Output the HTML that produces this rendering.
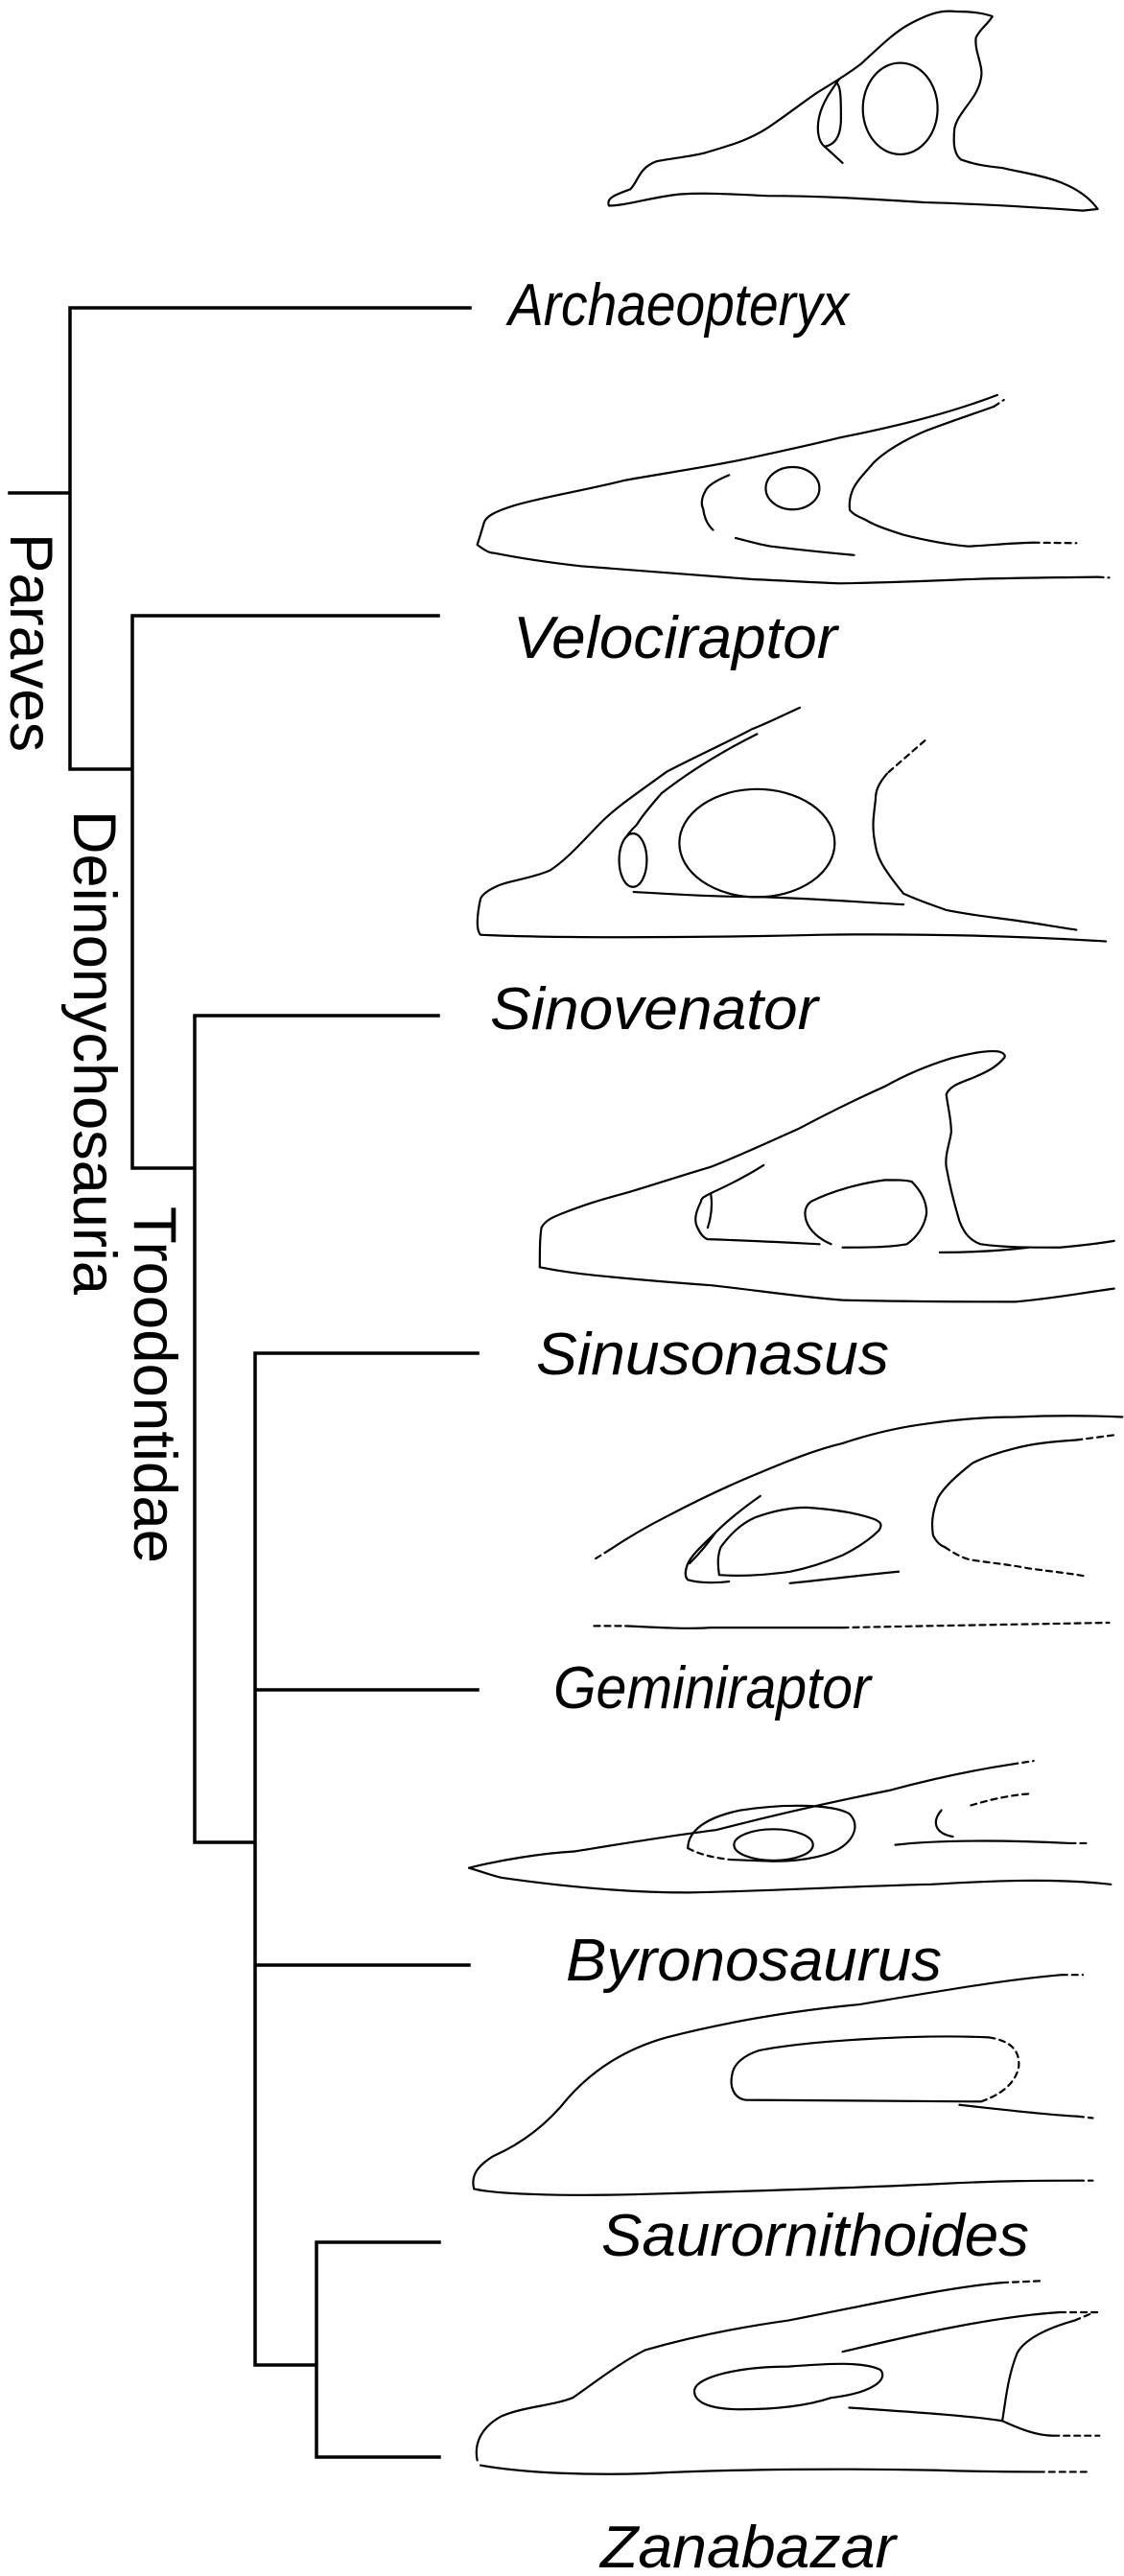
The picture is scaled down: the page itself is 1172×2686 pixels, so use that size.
<!DOCTYPE html>
<html><head><meta charset="utf-8"><style>
html,body{margin:0;padding:0;background:#fff;width:1172px;height:2686px;overflow:hidden}
svg{display:block}
.sp{font-family:"Liberation Sans",Arial,sans-serif;font-style:italic;font-size:62px;fill:#000}
.cl{font-family:"Liberation Sans",Arial,sans-serif;font-size:63px;fill:#000}
.sk path,.sk ellipse{fill:none;stroke:#000;stroke-width:2.2;vector-effect:non-scaling-stroke;stroke-linejoin:round;stroke-linecap:round}
.sk .d{stroke-dasharray:6 5}
</style></head><body>
<svg width="1172" height="2686" viewBox="0 0 1172 2686" xmlns="http://www.w3.org/2000/svg">
<g fill="none" stroke="#000" stroke-width="3.5" stroke-linecap="square">
<path d="M10,514H73M73,321H490M73,321V802H138M138,642H457M138,642V1218H203M203,1059H457M203,1059V1921H266M266,1411H498M266,1762H498M266,2049H489M266,1411V2466H330M330,2338H458M330,2338V2562H458"/>
</g>
<text class="cl" transform="translate(11,556) rotate(90)" textLength="228" lengthAdjust="spacingAndGlyphs">Paraves</text>
<text class="cl" transform="translate(77,845) rotate(90)" textLength="505" lengthAdjust="spacingAndGlyphs">Deinonychosauria</text>
<text class="cl" transform="translate(140,1258) rotate(90)" textLength="372" lengthAdjust="spacingAndGlyphs">Troodontidae</text>
<text class="sp" x="530" y="339" textLength="355" lengthAdjust="spacingAndGlyphs">Archaeopteryx</text>
<text class="sp" x="535" y="686" textLength="338" lengthAdjust="spacingAndGlyphs">Velociraptor</text>
<text class="sp" x="511" y="1073" textLength="342" lengthAdjust="spacingAndGlyphs">Sinovenator</text>
<text class="sp" x="559" y="1433" textLength="368" lengthAdjust="spacingAndGlyphs">Sinusonasus</text>
<text class="sp" x="577" y="1781" textLength="331" lengthAdjust="spacingAndGlyphs">Geminiraptor</text>
<text class="sp" x="590" y="2065" textLength="392" lengthAdjust="spacingAndGlyphs">Byronosaurus</text>
<text class="sp" x="627" y="2352" textLength="446" lengthAdjust="spacingAndGlyphs">Saurornithoides</text>
<text class="sp" x="626" y="2677" textLength="308" lengthAdjust="spacingAndGlyphs">Zanabazar</text>
<g class="sk" transform="scale(1.716)">
<path d="M370,125 C368,120 375,118 383,115 C388,110 388,102 399,98 C410,96 420,95 428,93 C445,88 455,85 466,78 C478,70 488,62 497,56 C507,50 515,45 523,39 C535,28 543,20 552,15 C565,8 572,6 581,7 C590,7 598,8 603,10 C600,15 595,18 593,23 C592,32 598,40 596,48 C594,60 582,68 580,78 C579,88 580,94 584,97 C592,100 600,101 609,102 C622,105 635,107 645,111 C655,115 662,120 667,127 L658,128 C630,126 600,124 562,123 C530,121 500,119 466,119 C445,118 430,117 413,118 C395,120 380,125 370,125 Z"/>
<ellipse cx="547" cy="66" rx="22.7" ry="27.8"/>
<path d="M508,50 C511,52 511,60 511,72 C511,82 508,88 501,89 C497,86 496,78 498,70 C500,62 505,55 510,48"/>
<path d="M501,89 L512,99"/>
<path d="M606,240 C580,250 550,258 510,266 C490,271 475,274 457,278 C430,284 400,288 379,292 C355,298 330,302 313,307 C300,311 295,314 294,318 C292,325 291,328 290,331 C294,334 297,336 300,336 C320,340 335,342 353,344 C390,347 420,349 457,352 C480,353 495,354 510,354.5 C540,354 565,353 588,352 C620,351 645,351 667,350.6"/>
<path class="d" d="M667,350.6 L674,351"/>
<path class="d" d="M604,247 L610,243"/>
<path d="M604,247 C590,252 575,257 562,262 C548,268 537,275 531,281 C524,289 520,293 518,298 C516,303 516,307 516.4,310 C519,313 522,314 525.6,315.7 C533,320 540,322 549,325 C565,329 577,331 588.5,332 C605,331 615,330 628,329.7"/>
<path class="d" d="M628,329.7 L654,330"/>
<ellipse cx="481.6" cy="296.7" rx="16.3" ry="12.9"/>
<path d="M443,288.7 C435,292 430,295 428.6,298.4 C426,303 426,307 427.3,309.2 C428,315 430,319 433.3,322"/>
<path d="M447,326.9 C455,329 462,331 468,331.9 C485,334 505,336 519,337.3"/>
<path d="M486,430 C475,435 465,440 457,443 C440,452 420,461 405,469 C390,480 375,490 366,499 C355,510 345,522 334,529 C322,534 310,535 303,538 C296,541 293,544 292,546 C290,555 289,565 292,568 C330,570 420,570 500,568 C580,567 640,570 672,572"/>
<path d="M460,446 C440,456 420,468 402,482 C395,490 390,496 387,501 C384,504 382,506 381,508"/>
<ellipse cx="384.6" cy="522.7" rx="8.4" ry="16.2"/>
<ellipse cx="460" cy="512.3" rx="47.2" ry="32.8"/>
<path d="M385,542 C420,544 440,545 463,545 C495,546 520,548 549,549.6"/>
<path class="d" d="M562,450 L539,470"/>
<path d="M539,470 C534,476 532,480 532,486 C531,495 530,500 531,508 C532,515 533,520 536,525 C540,532 545,538 549,543 C560,548 567,550 575,553 C590,556 600,557 615,559 C630,561 640,563 654,565"/>
<path d="M328,770 C328,760 328,752 329,746 C331,742 335,740 340,738 C355,732 365,729 380,725 C400,719 415,714 432,709 C450,702 467,694 485,686 C502,677 520,668 538,660 C552,652 565,647 578,643 C590,640 600,638 607,639 C611,640 611,642 610,643 C605,649 598,652 591,655 C583,658 577,660 575,665 C576,673 578,680 578,688 C577,695 574,702 575,709 C577,720 580,732 583,742 C586,750 590,754 596,756 C610,758 625,758 644,758 C655,757 665,756 677,754"/>
<path d="M328,770 C338,772 345,773 353,774 C380,777 405,779 432,781 C460,784 485,788 512,790 C550,791 585,791 617,791 C640,789 655,786 677,783"/>
<path d="M464,708 C453,715 443,720 432,725 C428,727 426,728 426,730 C423,736 422,740 423,744 C425,749 427,752 430,753 C460,754 478,755 498,756"/>
<path d="M432,726 C433,733 432,740 430,746"/>
<path d="M505,756 C498,753 492,748 490,742 C488,736 490,732 493,730 C505,724 522,719 538,717 C545,717 550,717 554,718 C560,724 563,730 563,737 C562,745 557,752 551,756 C540,758 525,758 512,758"/>
<path d="M571,761 C590,761 608,760 625,758"/>
<path class="d" d="M362,947 L370,942"/>
<path d="M370,942 C385,932 396,926 406,921 C425,911 442,903 459,896 C478,888 495,881 512,877 C530,871 548,867 564,865 C585,862 600,861 617,861 C640,860 660,860 682,861"/>
<path class="d" d="M654,875 L677,872"/>
<path d="M654,875 C640,876 628,877 617,880 C605,883 597,886 591,889 C582,896 574,903 570,910 C566,920 566,927 567,933 C569,937 571,939 574,940"/>
<path class="d" d="M574,940 C580,944 585,947 591,948 C605,950 615,951 625,953 C640,955 650,956 661,958"/>
<path d="M462,909 C452,916 443,923 435,931 C427,939 421,944 418,950 C416,955 416,958 418,960 C425,962 435,962 443,961"/>
<path d="M435,931 C430,938 425,944 419,950"/>
<path d="M437,957 C436,950 436,945 438,940 C444,932 450,926 459,922 C470,918 480,916 490,916 C505,917 520,919 531,923 C536,925 536,927 534,930 C528,936 520,941 512,945 C500,950 490,953 480,955 C465,957 450,958 437,957 Z"/>
<path d="M480,962 C500,960 525,957 546,955"/>
<path class="d" d="M361,988 L380,988"/>
<path d="M380,988 C400,989 420,990 432,989 C460,989 490,989 512,989"/>
<path class="d" d="M512,989 C560,988 620,987 674,986"/>
<path d="M285,1135 C305,1130 330,1126 349,1125 C380,1120 410,1115 435,1112 C470,1103 505,1095 540,1088 C570,1080 595,1075 615,1072"/>
<path class="d" d="M615,1072 L628,1070"/>
<path d="M285,1135 C295,1138 300,1140 305,1141 C340,1146 380,1150 418,1150 C470,1149 520,1146 566,1145 C600,1143 640,1141 675,1145"/>
<path class="d" d="M418,1123 C425,1127 435,1129 444,1130"/>
<path d="M418,1123 C418,1112 430,1104 450,1100 C475,1096 505,1096 516,1102 C522,1108 520,1116 512,1122 C505,1127 490,1131 470,1131 L444,1130"/>
<ellipse cx="470" cy="1121" rx="24" ry="9.5"/>
<path d="M572,1100 C566,1107 568,1114 579,1116"/>
<path d="M544,1121 C570,1118 610,1118 650,1120"/>
<path class="d" d="M650,1120 L660,1120"/>
<path class="d" d="M590,1097 C600,1094 612,1091 625,1090"/>
<path d="M288,1330 C286,1322 290,1316 300,1310 C318,1302 333,1290 345,1275 C360,1258 380,1245 405,1238 C440,1229 480,1222 522,1218 C570,1210 610,1203 645,1200"/>
<path class="d" d="M645,1200 L658,1200"/>
<path d="M288,1330 C300,1333 340,1335 400,1333 C470,1331 530,1329 570,1327 C610,1325 635,1325 655,1325"/>
<path class="d" d="M655,1325 L664,1325"/>
<path d="M601,1238 C560,1236 490,1240 461,1246 C452,1249 446,1254 445,1260 C443,1268 446,1275 453,1276 L596,1277"/>
<path class="d" d="M601,1238 C614,1240 620,1246 619,1256 C617,1266 608,1273 596,1277"/>
<path d="M583,1279 C610,1282 635,1285 655,1286"/>
<path class="d" d="M655,1286 L664,1287"/>
<path d="M290,1495 C288,1485 292,1475 305,1468 C320,1462 335,1462 348,1457 C365,1445 378,1435 392,1428 C420,1420 450,1414 479,1410 C530,1400 575,1390 609,1387"/>
<path class="d" d="M609,1387 L632,1386"/>
<path d="M512,1429 C550,1420 600,1408 644,1405"/>
<path class="d" d="M644,1405 L668,1405"/>
<path class="d" d="M653,1410 L665,1405"/>
<path d="M653,1410 C635,1415 622,1422 618,1430 C612,1445 611,1460 609,1471"/>
<path d="M516,1463 C560,1466 590,1468 609,1471 C620,1476 630,1480 640,1480"/>
<path class="d" d="M640,1480 L668,1480"/>
<path d="M292,1498 C320,1503 360,1504 392,1503 C450,1500 520,1500 570,1501 C600,1502 615,1502 631,1502"/>
<path class="d" d="M631,1502 L662,1502"/>
<path d="M422,1452 C424,1444 450,1438 479,1438 C505,1436 525,1435 535,1440 C540,1446 530,1454 505,1457 C490,1462 470,1464 450,1464 C432,1464 421,1460 422,1452 Z"/>
</g>
</svg>
</body></html>
